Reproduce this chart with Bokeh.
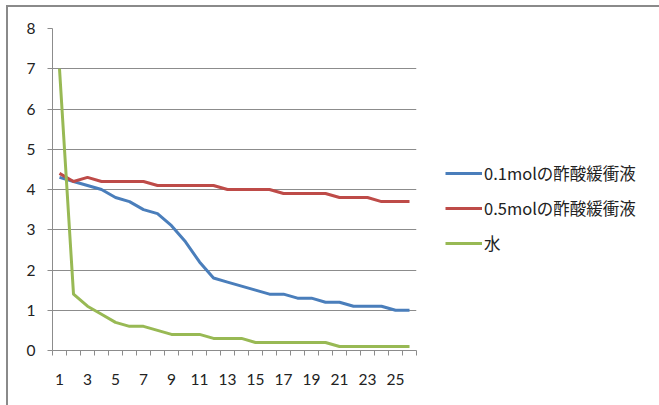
from bokeh.plotting import figure
from bokeh.models import Range1d, FixedTicker, Legend, LegendItem
from bokeh.layouts import row
from bokeh.embed import file_html
from bokeh.resources import INLINE

# Sample number (category axis)
samples = list(range(1, 27))

# pH-like readings for each solution
buffer_01 = [4.3, 4.2, 4.1, 4.0, 3.8, 3.7, 3.5, 3.4, 3.1, 2.7, 2.2, 1.8, 1.7,
             1.6, 1.5, 1.4, 1.4, 1.3, 1.3, 1.2, 1.2, 1.1, 1.1, 1.1, 1.0, 1.0]
buffer_05 = [4.4, 4.2, 4.3, 4.2, 4.2, 4.2, 4.2, 4.1, 4.1, 4.1, 4.1, 4.1, 4.0,
             4.0, 4.0, 4.0, 3.9, 3.9, 3.9, 3.9, 3.8, 3.8, 3.8, 3.7, 3.7, 3.7]
water = [7.0, 1.4, 1.1, 0.9, 0.7, 0.6, 0.6, 0.5, 0.4, 0.4, 0.4, 0.3, 0.3,
         0.3, 0.2, 0.2, 0.2, 0.2, 0.2, 0.2, 0.1, 0.1, 0.1, 0.1, 0.1, 0.1]

series_names = ["0.1molの酢酸緩衝液", "0.5molの酢酸緩衝液", "水"]
series_colors = ["#4A7EBB", "#BE4B48", "#98B954"]
series_values = [buffer_01, buffer_05, water]

x_label_ticks = [1, 3, 5, 7, 9, 11, 13, 15, 17, 19, 21, 23, 25]
y_ticks = [0, 1, 2, 3, 4, 5, 6, 7, 8]

GRID = "#8c8c8c"
LINE_W = 3

# ---- main chart -------------------------------------------------------
p = figure(width=411, height=400, output_backend="svg", toolbar_location=None,
           x_range=Range1d(0.5, 26.5), y_range=Range1d(0, 8),
           min_border_left=46, min_border_right=1,
           min_border_top=23, min_border_bottom=55)
p.border_fill_color = None
p.background_fill_color = "white"
p.outline_line_color = None

# x axis: labels on odd samples, tick marks between categories
p.xaxis.ticker = FixedTicker(ticks=x_label_ticks,
                             minor_ticks=[i + 0.5 for i in range(0, 27)])
p.xaxis.major_tick_line_color = None
p.xaxis.minor_tick_line_color = GRID
p.xaxis.minor_tick_out = 5
p.xaxis.minor_tick_in = 0
p.xaxis.axis_line_color = GRID
p.xaxis.major_label_standoff = 17

# y axis
p.yaxis.ticker = FixedTicker(ticks=y_ticks)
p.yaxis.minor_tick_line_color = None
p.yaxis.major_tick_line_color = GRID
p.yaxis.major_tick_out = 5
p.yaxis.major_tick_in = 0
p.yaxis.axis_line_color = GRID
p.yaxis.major_label_standoff = 12

for ax in (p.xaxis, p.yaxis):
    ax.major_label_text_font = "Lato"
    ax.major_label_text_font_size = "15.5px"
    ax.major_label_text_color = "#222222"

p.xgrid.grid_line_color = None
p.ygrid.ticker = FixedTicker(ticks=y_ticks)
p.ygrid.grid_line_color = GRID
p.ygrid.grid_line_width = 1

for vals, col in zip(series_values, series_colors):
    p.line(samples, vals, line_color=col, line_width=LINE_W, line_join="round")

# ---- legend panel to the right of the chart ----------------------------
# The series are drawn here too, but the y range lies below the data so
# only the legend entries are visible.
lg = figure(width=242, height=400, output_backend="svg", toolbar_location=None,
            x_range=Range1d(0, 27), y_range=Range1d(-2, -1),
            min_border_left=0, min_border_right=0,
            min_border_top=0, min_border_bottom=0)
lg.axis.visible = False
lg.grid.visible = False
lg.outline_line_color = None
lg.border_fill_color = None
lg.background_fill_color = None

items = []
for name, vals, col in zip(series_names, series_values, series_colors):
    r = lg.line(samples, vals, line_color=col, line_width=LINE_W)
    items.append(LegendItem(label=name, renderers=[r]))

legend = Legend(items=items, location=(28, 95))
legend.padding = 0
legend.margin = 0
legend.border_line_color = None
legend.background_fill_alpha = 0
legend.glyph_width = 37
legend.glyph_height = 20
legend.label_height = 20
legend.label_standoff = 2
legend.spacing = 11
legend.label_text_font = "Noto Sans CJK JP"
legend.label_text_font_size = "16.5px"
legend.label_text_color = "#222222"
lg.add_layout(legend, "center")

layout = row(p, lg, margin=(5, 0, 0, 6),
             styles={"box-shadow": "inset 2px 2px 0 0 #8a8a8a"})

open("out.html", "w").write(file_html(layout, INLINE))
